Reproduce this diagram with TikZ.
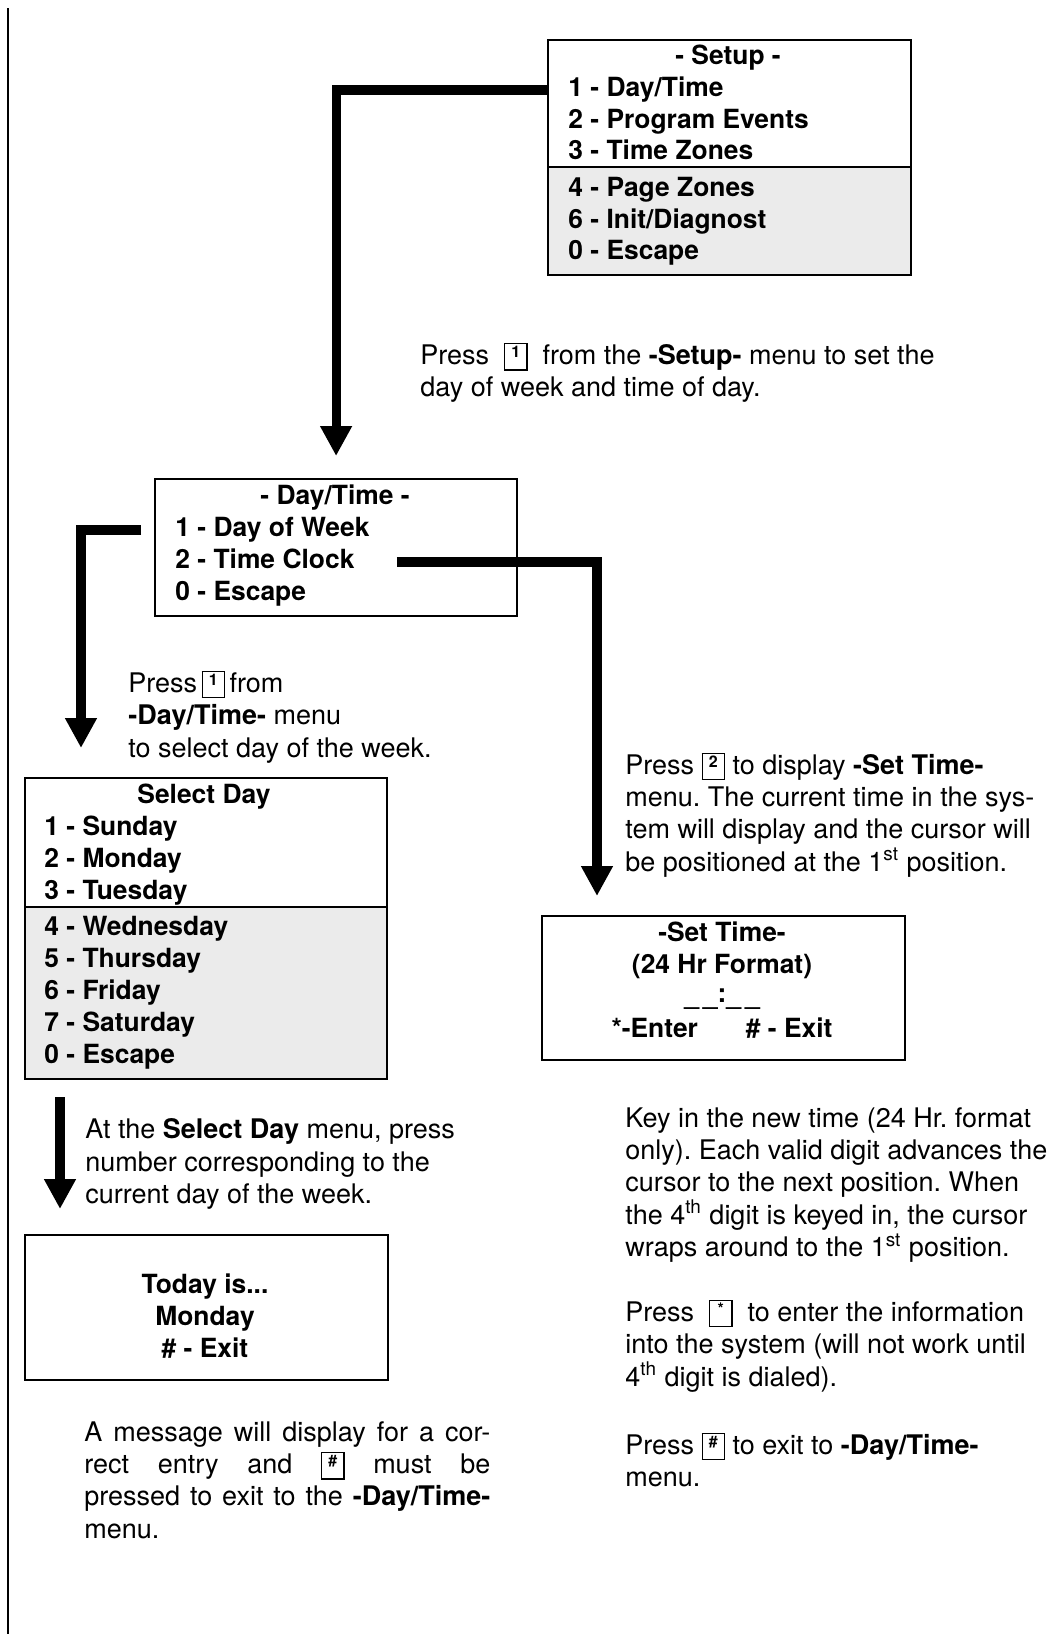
\documentclass[tikz,border=0pt]{standalone}
\usepackage{fontspec}
\setmainfont{TeX Gyre Heros}
\usetikzlibrary{arrows.meta}

\newcommand{\keycap}[1]{{\setlength{\fboxsep}{0pt}\setlength{\fboxrule}{0.6pt}\fbox{\makebox[10.5pt]{\rule[-2.5pt]{0pt}{12.5pt}\raisebox{3.5pt}{\fontsize{8}{9}\selectfont\bfseries #1}}}}}

\begin{document}
\frenchspacing
\begin{tikzpicture}[x=0.5pt,y=-0.5pt]
\tikzstyle{every node}=[inner sep=0pt]
\tikzstyle{menuline}=[anchor=west, font=\fontsize{13.2}{16}\selectfont\bfseries, text height=9.5pt, text depth=3pt]
\tikzstyle{menutitle}=[menuline, anchor=center]
\tikzstyle{menubox}=[draw, line width=1.1pt, anchor=north west]
\tikzstyle{note}=[anchor=west, align=left, font=\fontsize{13.5}{16.2}\selectfont]
\tikzstyle{flow}=[line width=4.6pt, -{Triangle[width=15pt,length=15pt]}]
\tikzstyle{shade}=[fill=black!8]
\useasboundingbox (0,0) rectangle (1056,1634);
\draw[line width=1pt] (8,8) -- (8,1634);
% -Setup- menu
\fill[shade] (547,167) rectangle (910,274);
\node[menubox, minimum width=181.5pt, minimum height=117.5pt] (setup) at (547,39) {};
\draw[line width=1.1pt] (547,167) -- (910,167);
\node[menutitle] (su0) at (728,58) {- Setup -};
\node[menuline] (su1) at (568,90) {1 - Day/Time};
\node[menuline] (su2) at (568,122) {2 - Program Events};
\node[menuline] (su3) at (568,153) {3 - Time Zones};
\node[menuline] (su4) at (568,190) {4 - Page Zones};
\node[menuline] (su6) at (568,222) {6 - Init/Diagnost};
\node[menuline] (su9) at (568,253) {0 - Escape};
\node[note] (pressone) at (420,373) {Press\ \ \keycap{1}\ \ from the \textbf{-Setup-} menu to set the\\day of week and time of day.};
% -Day/Time- menu
\node[menubox, minimum width=181pt, minimum height=68.5pt] (daytime) at (154,478) {};
\node[menutitle] (dt0) at (335,498) {- Day/Time -};
\node[menuline] (dt1) at (175,530) {1 - Day of Week};
\node[menuline] (dt2) at (175,562) {2 - Time Clock};
\node[menuline] (dt9) at (175,594) {0 - Escape};
\draw[flow, shorten >=11pt] (setup.west |- su1) -| (daytime.north);
\node[note] (pressfrom) at (128,717) {Press\,\keycap{1}\,from\\\textbf{-Day/Time-} menu\\to select day of the week.};
\node[note] (presstwo) at (625,815) {Press\ \keycap{2}\ to display \textbf{-Set Time-}\\menu. The current time in the sys-\\tem will display and the cursor will\\be positioned at the 1\textsuperscript{st} position.};
% Select Day menu
\fill[shade] (24,907) rectangle (386,1078);
\node[menubox, minimum width=181pt, minimum height=150.5pt] (selday) at (24,777) {};
\draw[line width=1.1pt] (24,907) -- (386,907);
\node[menutitle] (sd0) at (204,797) {Select Day};
\node[menuline] (sd1) at (44,829) {1 - Sunday};
\node[menuline] (sd2) at (44,861) {2 - Monday};
\node[menuline] (sd3) at (44,893) {3 - Tuesday};
\node[menuline] (sd4) at (44,929) {4 - Wednesday};
\node[menuline] (sd5) at (44,961) {5 - Thursday};
\node[menuline] (sd6) at (44,993) {6 - Friday};
\node[menuline] (sd7) at (44,1025) {7 - Saturday};
\node[menuline] (sd9) at (44,1057) {0 - Escape};
\draw[flow, shorten <=6.5pt, shorten >=14.5pt] (daytime.west |- dt1) -| ([xshift=28.5pt]selday.north west);
% -Set Time- menu
\node[menubox, minimum width=181.5pt, minimum height=72pt] (settime) at (541,915) {};
\node[menutitle] (st0) at (722,935) {-Set Time-};
\node[menutitle] (st1) at (722,967) {(24 Hr Format)};
\node[menutitle] (st2) at (722,998) {\_\hspace{2pt}\_\raisebox{1pt}{:}\_\hspace{2pt}\_};
\node[menutitle] (st3) at (722,1031) {*-Enter\hspace{24pt}\# - Exit};
\draw[flow, shorten >=9.5pt] ([xshift=21pt]dt2.east) -| ([xshift=28pt]settime.north west);
% Today box
\node[menubox, minimum width=181.5pt, minimum height=72.5pt] (today) at (24,1234) {};
\node[menutitle] (td0) at (205,1287) {Today is...};
\node[menutitle] (td1) at (205,1319) {Monday};
\node[menutitle] (td2) at (205,1351) {\# - Exit};
\draw[flow, shorten <=8.5pt, shorten >=12.5pt] ([xshift=18pt]selday.south west) -- ([xshift=18pt]today.north west);
\node[note] (atselect) at (85,1164) {At the \textbf{Select Day} menu, press\\number corresponding to the\\current day of the week.};
\node[note, text width=203pt, align=justify] (message) at (84,1480) {A message will display for a cor-\linebreak rect entry and \keycap{\#} must be\linebreak pressed to exit to the \textbf{-Day/Time-}\linebreak menu.};
\node[note] (keyin) at (625,1185) {Key in the new time (24 Hr. format\\only). Each valid digit advances the\\cursor to the next position. When\\the 4\textsuperscript{th} digit is keyed in, the cursor\\wraps around to the 1\textsuperscript{st} position.};
\node[note] (pressstar) at (625,1346) {Press\ \ \keycap{*}\ \ to enter the information\\into the system (will not work until\\4\textsuperscript{th} digit is dialed).};
\node[note] (presshash) at (625,1460) {Press\ \keycap{\#}\ to exit to \textbf{-Day/Time-}\\menu.};
\end{tikzpicture}
\end{document}
